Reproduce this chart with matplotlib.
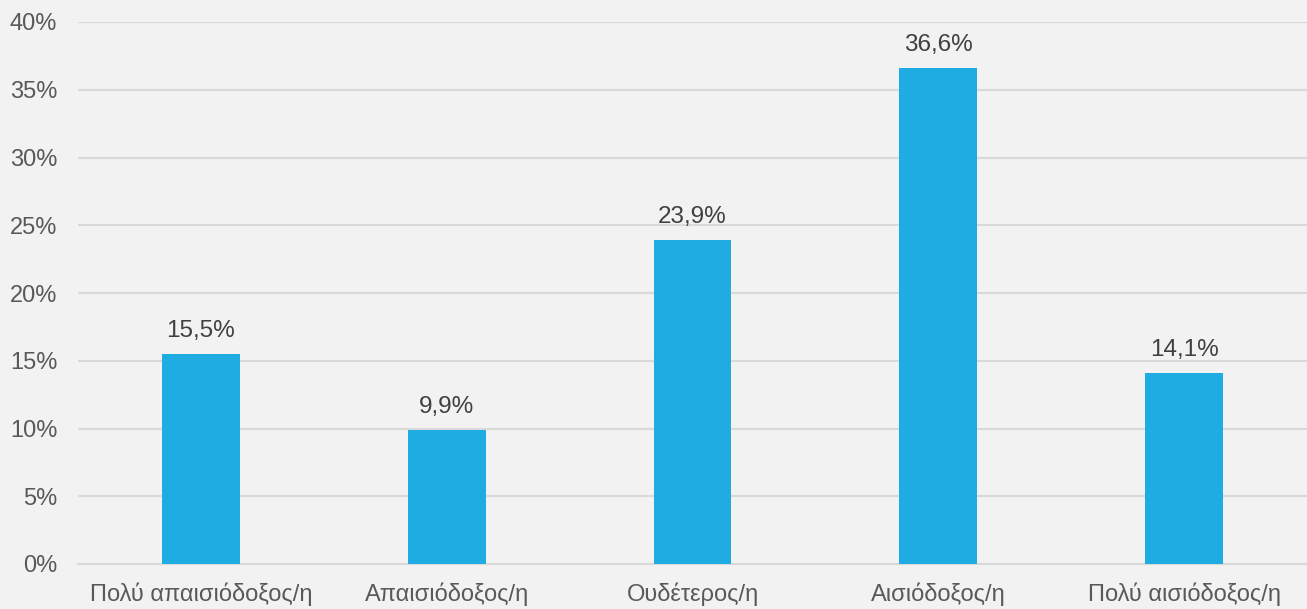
import numpy as np
import matplotlib.pyplot as plt

# data
categories = ["Πολύ απαισιόδοξος/η", "Απαισιόδοξος/η", "Ουδέτερος/η", "Αισιόδοξος/η", "Πολύ αισιόδοξος/η"]
values = [15.5, 9.9, 23.9, 36.6, 14.1]
yticks = [0, 5, 10, 15, 20, 25, 30, 35, 40]

plt.rcParams['font.family'] = ['Liberation Sans', 'DejaVu Sans']
bg = '#F2F2F2'
txt = '#595959'

fig = plt.figure(figsize=(13.07, 6.09), dpi=100, facecolor=bg)
ax = fig.add_axes([78/1307, 45/609, 1 - 78/1307, (564-22)/609])
ax.set_facecolor(bg)

x = np.arange(len(categories))
bars = ax.bar(x, values, width=0.317, color='#1EACE3', zorder=3)
for b, v in zip(bars, values):
    ax.text(b.get_x() + b.get_width()/2, v + 0.9, f"{v:.1f}%".replace('.', ','),
            ha='center', va='bottom', fontsize=17.5, color='#404040')

ax.set_xlim(-0.5, len(categories) - 0.5)
ax.set_ylim(0, 40)
ax.set_yticks(yticks)
ax.set_yticklabels([f"{t}%" for t in yticks])
ax.set_xticks(x)
ax.set_xticklabels(categories)
ax.tick_params(axis='both', length=0, labelsize=17, labelcolor=txt)
ax.tick_params(axis='y', pad=15)
ax.tick_params(axis='x', pad=13)
ax.yaxis.grid(True, color='#D9D9D9', linewidth=1.5, zorder=0)
for s in ['top', 'right', 'left']:
    ax.spines[s].set_visible(False)
ax.spines['bottom'].set_color('#D9D9D9')
ax.spines['bottom'].set_linewidth(1.5)

fig.savefig('out.png', dpi=100, facecolor=bg)
